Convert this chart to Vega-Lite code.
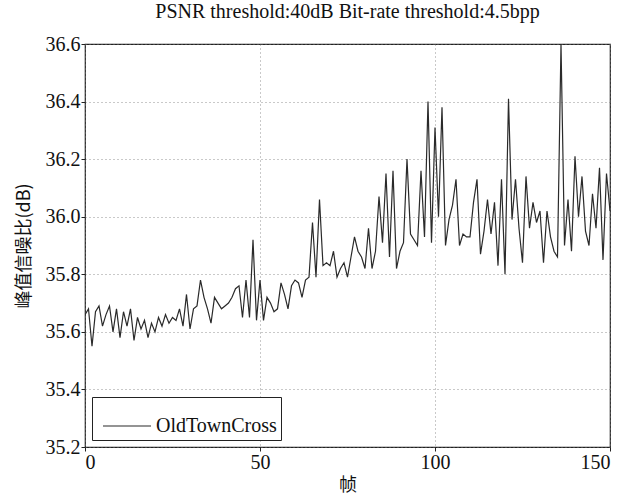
{
  "$schema": "https://vega.github.io/schema/vega-lite/v6.json",
  "autosize": {"type": "none"},
  "padding": {"left": 85, "top": 44, "right": 15, "bottom": 56},
  "width": 525,
  "height": 403,
  "background": "white",
  "title": {
    "text": "PSNR threshold:40dB Bit-rate threshold:4.5bpp",
    "font": "Liberation Serif",
    "fontSize": 20,
    "fontWeight": "normal",
    "color": "#111",
    "offset": 12,
    "anchor": "middle"
  },
  "config": {
    "view": {"stroke": "#222", "strokeWidth": 1.2},
    "axis": {
      "labelFont": "Liberation Serif",
      "labelFontSize": 20,
      "labelColor": "#111",
      "titleFont": "Noto Sans CJK SC",
      "titleFontSize": 18,
      "titleFontWeight": "normal",
      "titleColor": "#111",
      "domain": false,
      "tickColor": "#222",
      "gridColor": "#777",
      "gridDash": [1, 3],
      "gridWidth": 0.8,
      "gridOpacity": 1
    }
  },
  "data": {
    "values": [
      {"frame": 0, "psnr": 35.66}, {"frame": 1, "psnr": 35.68}, {"frame": 2, "psnr": 35.55}, {"frame": 3, "psnr": 35.67},
      {"frame": 4, "psnr": 35.69}, {"frame": 5, "psnr": 35.62}, {"frame": 6, "psnr": 35.66}, {"frame": 7, "psnr": 35.69},
      {"frame": 8, "psnr": 35.6}, {"frame": 9, "psnr": 35.68}, {"frame": 10, "psnr": 35.58}, {"frame": 11, "psnr": 35.67},
      {"frame": 12, "psnr": 35.62}, {"frame": 13, "psnr": 35.68}, {"frame": 14, "psnr": 35.57}, {"frame": 15, "psnr": 35.65},
      {"frame": 16, "psnr": 35.61}, {"frame": 17, "psnr": 35.64}, {"frame": 18, "psnr": 35.58}, {"frame": 19, "psnr": 35.63},
      {"frame": 20, "psnr": 35.6}, {"frame": 21, "psnr": 35.65}, {"frame": 22, "psnr": 35.62}, {"frame": 23, "psnr": 35.66},
      {"frame": 24, "psnr": 35.63}, {"frame": 25, "psnr": 35.65}, {"frame": 26, "psnr": 35.64}, {"frame": 27, "psnr": 35.68},
      {"frame": 28, "psnr": 35.62}, {"frame": 29, "psnr": 35.73}, {"frame": 30, "psnr": 35.61}, {"frame": 31, "psnr": 35.68},
      {"frame": 32, "psnr": 35.69}, {"frame": 33, "psnr": 35.78}, {"frame": 34, "psnr": 35.72}, {"frame": 35, "psnr": 35.68},
      {"frame": 36, "psnr": 35.63}, {"frame": 37, "psnr": 35.72}, {"frame": 38, "psnr": 35.7}, {"frame": 39, "psnr": 35.68},
      {"frame": 40, "psnr": 35.69}, {"frame": 41, "psnr": 35.7}, {"frame": 42, "psnr": 35.72}, {"frame": 43, "psnr": 35.75},
      {"frame": 44, "psnr": 35.76}, {"frame": 45, "psnr": 35.65}, {"frame": 46, "psnr": 35.78}, {"frame": 47, "psnr": 35.65},
      {"frame": 48, "psnr": 35.92}, {"frame": 49, "psnr": 35.64}, {"frame": 50, "psnr": 35.78}, {"frame": 51, "psnr": 35.64},
      {"frame": 52, "psnr": 35.72}, {"frame": 53, "psnr": 35.7}, {"frame": 54, "psnr": 35.67}, {"frame": 55, "psnr": 35.68},
      {"frame": 56, "psnr": 35.77}, {"frame": 57, "psnr": 35.73}, {"frame": 58, "psnr": 35.68}, {"frame": 59, "psnr": 35.76},
      {"frame": 60, "psnr": 35.78}, {"frame": 61, "psnr": 35.77}, {"frame": 62, "psnr": 35.72}, {"frame": 63, "psnr": 35.78},
      {"frame": 64, "psnr": 35.79}, {"frame": 65, "psnr": 35.98}, {"frame": 66, "psnr": 35.79}, {"frame": 67, "psnr": 36.06},
      {"frame": 68, "psnr": 35.83}, {"frame": 69, "psnr": 35.84}, {"frame": 70, "psnr": 35.83}, {"frame": 71, "psnr": 35.88},
      {"frame": 72, "psnr": 35.79}, {"frame": 73, "psnr": 35.82}, {"frame": 74, "psnr": 35.84}, {"frame": 75, "psnr": 35.79},
      {"frame": 76, "psnr": 35.86}, {"frame": 77, "psnr": 35.93}, {"frame": 78, "psnr": 35.88}, {"frame": 79, "psnr": 35.86},
      {"frame": 80, "psnr": 35.82}, {"frame": 81, "psnr": 35.96}, {"frame": 82, "psnr": 35.82}, {"frame": 83, "psnr": 35.88},
      {"frame": 84, "psnr": 36.07}, {"frame": 85, "psnr": 35.91}, {"frame": 86, "psnr": 36.15}, {"frame": 87, "psnr": 35.86},
      {"frame": 88, "psnr": 36.16}, {"frame": 89, "psnr": 35.82}, {"frame": 90, "psnr": 35.88}, {"frame": 91, "psnr": 35.91},
      {"frame": 92, "psnr": 36.2}, {"frame": 93, "psnr": 35.94}, {"frame": 94, "psnr": 35.92}, {"frame": 95, "psnr": 35.9},
      {"frame": 96, "psnr": 36.16}, {"frame": 97, "psnr": 35.93}, {"frame": 98, "psnr": 36.4}, {"frame": 99, "psnr": 35.91},
      {"frame": 100, "psnr": 36.31}, {"frame": 101, "psnr": 36.0}, {"frame": 102, "psnr": 36.38}, {"frame": 103, "psnr": 35.9},
      {"frame": 104, "psnr": 35.99}, {"frame": 105, "psnr": 36.04}, {"frame": 106, "psnr": 36.13}, {"frame": 107, "psnr": 35.9},
      {"frame": 108, "psnr": 35.94}, {"frame": 109, "psnr": 35.93}, {"frame": 110, "psnr": 35.93}, {"frame": 111, "psnr": 36.05},
      {"frame": 112, "psnr": 36.13}, {"frame": 113, "psnr": 35.87}, {"frame": 114, "psnr": 35.95}, {"frame": 115, "psnr": 36.06},
      {"frame": 116, "psnr": 35.94}, {"frame": 117, "psnr": 36.05}, {"frame": 118, "psnr": 35.83}, {"frame": 119, "psnr": 36.13},
      {"frame": 120, "psnr": 35.8}, {"frame": 121, "psnr": 36.41}, {"frame": 122, "psnr": 35.99}, {"frame": 123, "psnr": 36.13},
      {"frame": 124, "psnr": 35.96}, {"frame": 125, "psnr": 35.84}, {"frame": 126, "psnr": 36.14}, {"frame": 127, "psnr": 35.96},
      {"frame": 128, "psnr": 36.05}, {"frame": 129, "psnr": 35.98}, {"frame": 130, "psnr": 36.02}, {"frame": 131, "psnr": 35.84},
      {"frame": 132, "psnr": 36.02}, {"frame": 133, "psnr": 35.93}, {"frame": 134, "psnr": 35.88}, {"frame": 135, "psnr": 35.86},
      {"frame": 136, "psnr": 36.6}, {"frame": 137, "psnr": 35.9}, {"frame": 138, "psnr": 36.06}, {"frame": 139, "psnr": 35.88},
      {"frame": 140, "psnr": 36.21}, {"frame": 141, "psnr": 36.0}, {"frame": 142, "psnr": 36.14}, {"frame": 143, "psnr": 35.95},
      {"frame": 144, "psnr": 35.9}, {"frame": 145, "psnr": 36.08}, {"frame": 146, "psnr": 35.96}, {"frame": 147, "psnr": 36.17},
      {"frame": 148, "psnr": 35.85}, {"frame": 149, "psnr": 36.15}, {"frame": 150, "psnr": 36.02}
    ]
  },
  "mark": {"type": "line", "strokeWidth": 1.2, "clip": true},
  "encoding": {
    "x": {
      "field": "frame",
      "type": "quantitative",
      "scale": {"domain": [0, 150], "nice": false},
      "axis": {"values": [0, 50, 100, 150], "title": "帧", "titlePadding": 4, "tickSize": 4, "labelPadding": 1, "grid": true}
    },
    "y": {
      "field": "psnr",
      "type": "quantitative",
      "scale": {"domain": [35.2, 36.6], "nice": false, "zero": false},
      "axis": {"values": [35.2, 35.4, 35.6, 35.8, 36.0, 36.2, 36.4, 36.6], "format": ".1f", "title": "峰值信噪比(dB)", "titlePadding": 12, "tickSize": 4, "labelPadding": 1, "grid": true}
    },
    "color": {
      "datum": "OldTownCross",
      "scale": {"range": ["#2a2a2a"]},
      "legend": {
        "title": null,
        "orient": "bottom-left",
        "offset": 7,
        "symbolType": "stroke",
        "symbolSize": 2304,
        "symbolStrokeWidth": 1.2,
        "symbolOffset": 6,
        "labelFont": "Liberation Serif",
        "labelFontSize": 20,
        "labelColor": "#111",
        "strokeColor": "#222",
        "fillColor": "white",
        "padding": 4,
        "labelOffset": 4
      }
    }
  }
}
